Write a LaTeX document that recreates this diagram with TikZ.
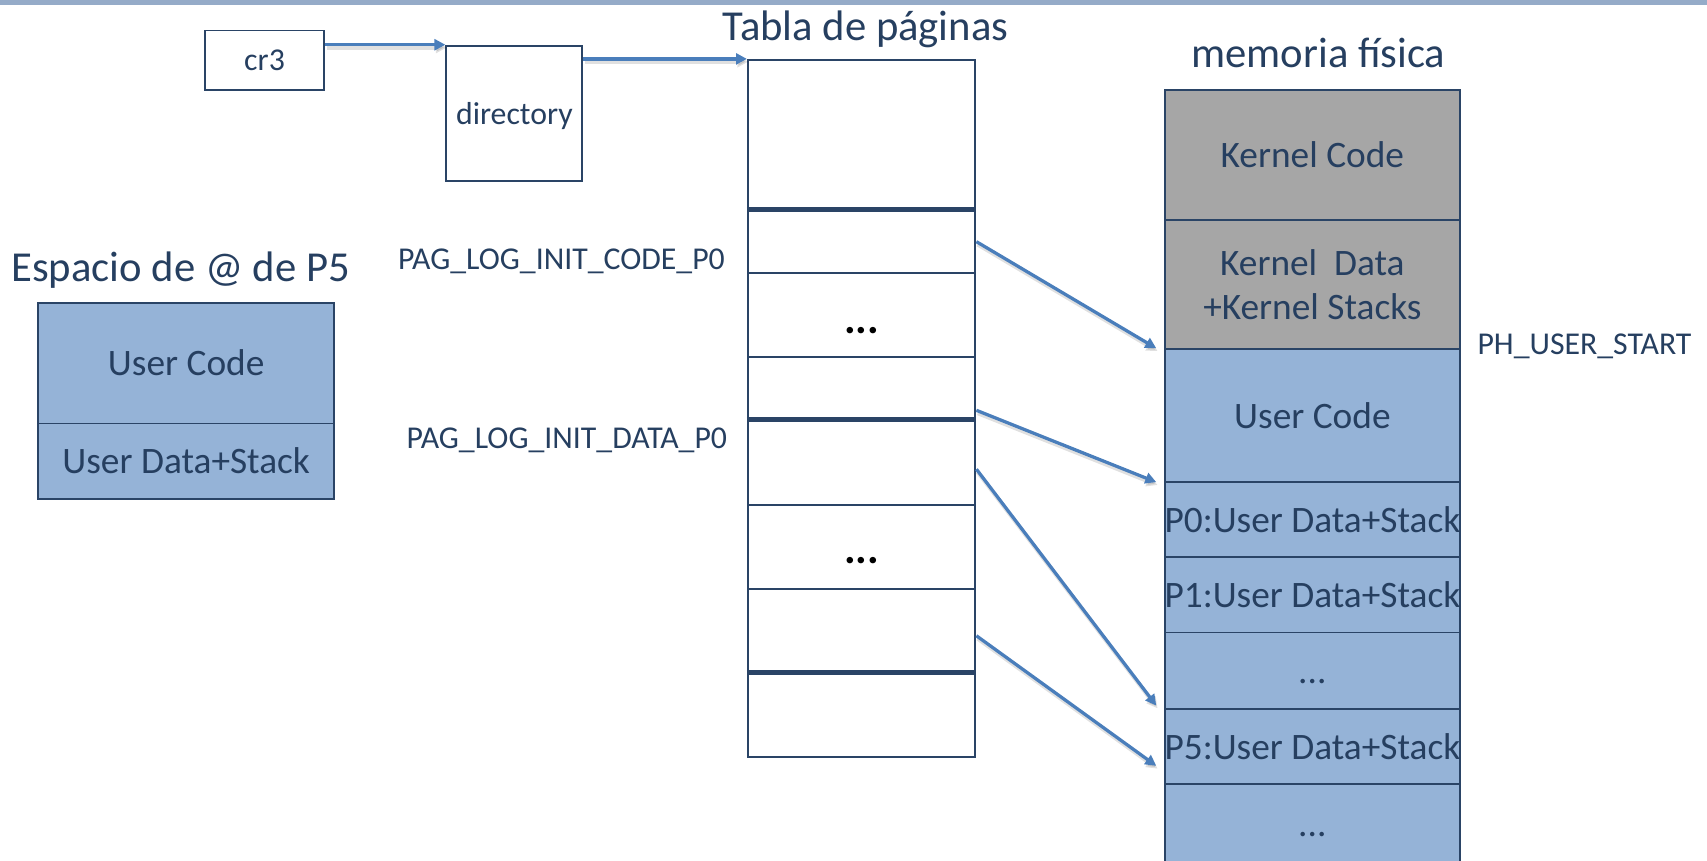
\documentclass[tikz,border=0pt]{standalone}
\usepackage{fontspec}
\setmainfont{Carlito}
\usetikzlibrary{arrows.meta,calc}

\definecolor{ink}{HTML}{263F60}
\definecolor{edgec}{HTML}{2A4466}
\definecolor{userfill}{HTML}{95B3D7}
\definecolor{kernfill}{HTML}{A6A6A6}
\definecolor{linkc}{HTML}{4A7EBB}
\definecolor{band}{HTML}{95ABC8}

% a rectangular cell given by its corners: name, x1, y1, x2, y2, style, text
\newcommand{\rowbox}[7]{\node[#6, minimum width={#4-#2}, minimum height={#5-#3}] (#1) at ({(#2+#4)/2},{(#3+#5)/2}) {#7};}
\newcommand{\ctext}[1]{\makebox[0pt][c]{\vphantom{Kd}#1}}

\tikzset{
  box/.style={draw=edgec, line width=1.8pt, inner sep=0pt, text=ink},
  plainbox/.style={box, fill=white},
  userbox/.style={box, fill=userfill, font=\fontsize{34.3}{40}\selectfont},
  kernbox/.style={box, fill=kernfill, font=\fontsize{34.3}{40}\selectfont},
  title/.style={text=ink, inner sep=0pt, font=\fontsize{39.2}{46}\selectfont},
  lab/.style={text=ink, inner sep=0pt, font=\fontsize{29.2}{34}\selectfont},
  dots/.style={text=black, inner sep=0pt, font=\fontsize{40}{46}\selectfont\bfseries},
  thick rule/.style={draw=edgec, line width=4.6pt},
  link/.style={draw=linkc, line width=3pt, -{Triangle[length=10pt,width=10pt]},
    preaction={draw=black, opacity=0.12, line width=3.8pt,
      transform canvas={xshift=1.2pt,yshift=-2.6pt}}}
}

\begin{document}
\begin{tikzpicture}[x=1pt,y=-1pt]
\useasboundingbox (0,0) rectangle (1568,790);
\fill[band] (0,0) rectangle (1568,5);

% registers
\rowbox{cr3}{188}{28}{298}{83}{plainbox, font=\fontsize{29.2}{34}\selectfont}{cr3}
\rowbox{dir}{410}{42}{535}{166}{plainbox, font=\fontsize{29.2}{34}\selectfont, text height=20.6pt, text depth=0pt}{directory}

% page table
\node[title] (ttab) at (795,27) {Tabla de páginas};
\rowbox{t1}{687}{55}{896}{193}{plainbox}{}
\rowbox{t2}{687}{193}{896}{251}{plainbox}{}
\rowbox{t3}{687}{251}{896}{328}{plainbox}{}
\rowbox{t4}{687}{328}{896}{386}{plainbox}{}
\rowbox{t5}{687}{386}{896}{464}{plainbox}{}
\rowbox{t6}{687}{464}{896}{541}{plainbox}{}
\rowbox{t7}{687}{541}{896}{619}{plainbox}{}
\rowbox{t8}{687}{619}{896}{695}{plainbox}{}
\draw[thick rule] (t2.north west) -- (t2.north east);
\draw[thick rule] (t5.north west) -- (t5.north east);
\draw[thick rule] (t8.north west) -- (t8.north east);
\node[dots] (d1) at ([yshift=-14.5pt]t3.center) {...};
\node[dots] (d2) at ([yshift=-12pt]t6.center) {...};

\node[lab, anchor=east] (lcode) at (666,240) {PAG\_LOG\_INIT\_CODE\_P0};
\node[lab, anchor=east] (ldata) at (668,404) {PAG\_LOG\_INIT\_DATA\_P0};

% physical memory
\node[title] (tmem) at (1211,48.5) {memoria física};
\rowbox{m1}{1070}{83}{1341}{202}{kernbox}{\ctext{Kernel Code}}
\rowbox{m2}{1070}{202}{1341}{321}{kernbox, align=center}{\vphantom{Kd}Kernel\ \ Data\\+Kernel Stacks}
\rowbox{m3}{1070}{321}{1341}{443}{userbox}{\ctext{User Code}}
\rowbox{m4}{1070}{443}{1341}{512}{userbox}{\ctext{P0:User Data+Stack}}
\rowbox{m5}{1070}{512}{1341}{581}{userbox}{\ctext{P1:User Data+Stack}}
\rowbox{m6}{1070}{581}{1341}{651}{userbox}{\ctext{...}}
\rowbox{m7}{1070}{651}{1341}{720}{userbox}{\ctext{P5:User Data+Stack}}
\rowbox{m8}{1070}{720}{1341}{793}{userbox}{\ctext{...}}
\node[lab, anchor=west] (luser) at (1357,318) {PH\_USER\_START};

% address space of P5
\node[title] (tesp) at (166,248) {Espacio de @ de P5};
\rowbox{l1}{35}{278}{307}{389}{userbox}{\ctext{User Code}}
\rowbox{l2}{35}{389}{307}{458}{userbox}{\ctext{User Data+Stack}}

% translation links
\draw[link] (cr3.east |- dir.north) -- (dir.north west);
\draw[link] (dir.east |- t1.north) -- (t1.north west);
\draw[link] (t2.east) -- ([xshift=-7pt,yshift=2pt]m2.south west);
\draw[link] ([yshift=10pt]t4.south east) -- ([xshift=-7pt,yshift=1pt]m3.south west);
\draw[link] ([yshift=-6pt]t5.east) -- ([xshift=-7pt,yshift=2pt]m7.north west);
\draw[link] ([yshift=-4pt]t7.east) -- ([xshift=-7pt,yshift=-18pt]m7.west);
\end{tikzpicture}
\end{document}
